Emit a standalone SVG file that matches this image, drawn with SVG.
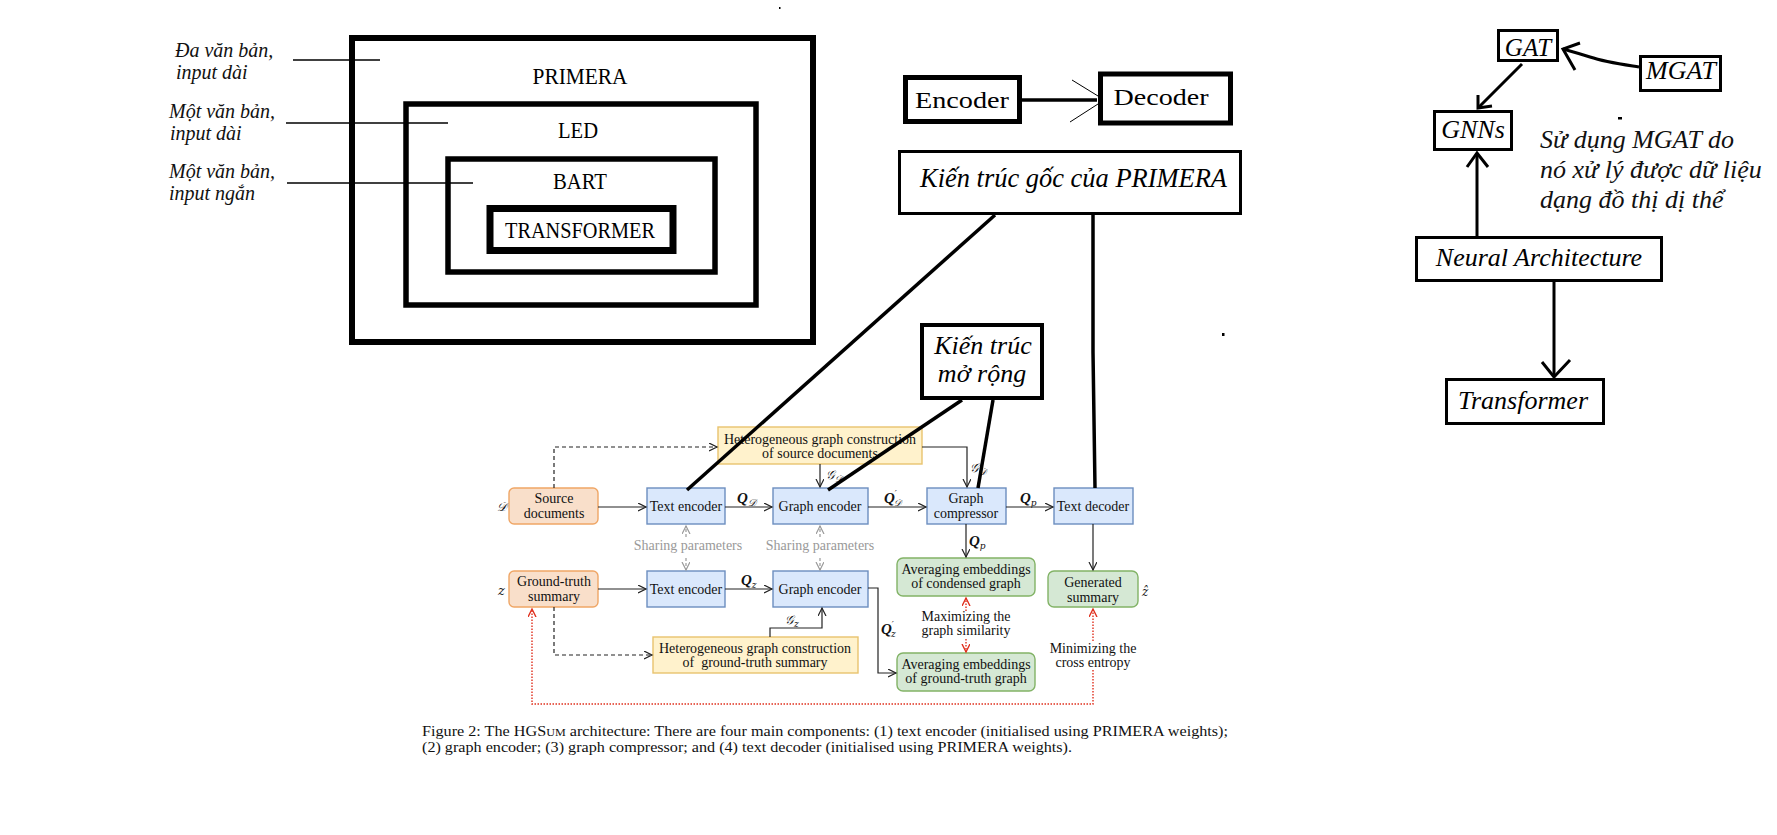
<svg xmlns="http://www.w3.org/2000/svg" width="1777" height="835" viewBox="0 0 1777 835">
<defs>
<style>
.bx{fill:none;stroke:#000}
.cond{font-family:"Liberation Serif","Times New Roman","DejaVu Serif",serif;font-size:24px;text-anchor:middle}
.it{font-family:"Liberation Serif","Times New Roman","DejaVu Serif",serif;font-style:italic}
.sf{font-family:"Liberation Serif","Times New Roman","DejaVu Serif",serif;font-size:14px;fill:#111}
.c{text-anchor:middle}
.blue{fill:#DAE8FC;stroke:#6C8EBF;stroke-width:1.4}
.peach{fill:#F9DFCA;stroke:#EFA666;stroke-width:1.4}
.yel{fill:#FFF2CC;stroke:#E8C36E;stroke-width:1.4}
.grn{fill:#D5E8D4;stroke:#82B366;stroke-width:1.4}
.ln{fill:none;stroke:#222;stroke-width:1.2}
.dash{fill:none;stroke:#222;stroke-width:1.2;stroke-dasharray:4 3}
.grey{fill:none;stroke:#999;stroke-width:1.2;stroke-dasharray:3 2}
.red{fill:none;stroke:#E0301E;stroke-width:1.4;stroke-dasharray:1.5 1.5}
.ann{fill:none;stroke:#000;stroke-width:3.5}
.hand{fill:none;stroke:#000;stroke-width:3}
.math{font-family:"DejaVu Serif","Liberation Serif",serif;font-style:italic;fill:#111}
.q{font-family:"Liberation Serif","DejaVu Serif",serif;font-style:italic;font-weight:bold;font-size:15px;fill:#111}
</style>
<marker id="a" markerWidth="10" markerHeight="10" refX="8" refY="4" orient="auto" markerUnits="userSpaceOnUse"><path d="M0,0 L8,4 L0,8" fill="none" stroke="#222" stroke-width="1.2"/></marker>
<marker id="ag" markerWidth="10" markerHeight="10" refX="8" refY="4" orient="auto" markerUnits="userSpaceOnUse"><path d="M0,0 L8,4 L0,8" fill="none" stroke="#999" stroke-width="1.2"/></marker>
<marker id="ar" markerWidth="10" markerHeight="10" refX="8" refY="4" orient="auto" markerUnits="userSpaceOnUse"><path d="M0,0 L8,4 L0,8" fill="none" stroke="#E0301E" stroke-width="1.4"/></marker>
</defs>
<rect width="1777" height="835" fill="#fff"/>

<!-- nested boxes -->
<g id="primera">
<rect class="bx" x="352" y="38" width="461" height="304" stroke-width="6"/>
<text class="cond" x="580" y="84" textLength="95" lengthAdjust="spacingAndGlyphs">PRIMERA</text>
</g>
<g id="led">
<rect class="bx" x="406" y="104" width="350" height="201" stroke-width="5.5"/>
<text class="cond" x="578" y="138" textLength="40" lengthAdjust="spacingAndGlyphs">LED</text>
</g>
<g id="bart">
<rect class="bx" x="448" y="159" width="267" height="113" stroke-width="5.5"/>
<text class="cond" x="580" y="189" textLength="54" lengthAdjust="spacingAndGlyphs">BART</text>
</g>
<g id="transformer-inner">
<rect class="bx" x="490" y="208.5" width="183" height="42" stroke-width="7"/>
<text class="cond" x="580" y="238" textLength="150" lengthAdjust="spacingAndGlyphs">TRANSFORMER</text>
</g>
<g id="side-labels" class="it" font-size="20" fill="#111">
<text x="175" y="57">Đa văn bản,</text>
<text x="176" y="79">input dài</text>
<text x="169" y="118">Một văn bản,</text>
<text x="170" y="140">input dài</text>
<text x="169" y="178">Một văn bản,</text>
<text x="169" y="200">input ngắn</text>
<line x1="293" y1="60" x2="380" y2="60" stroke="#000" stroke-width="1.5"/>
<line x1="286" y1="123" x2="448" y2="123" stroke="#000" stroke-width="1.5"/>
<line x1="287" y1="183" x2="473" y2="183" stroke="#000" stroke-width="1.5"/>
</g>

<!-- Encoder / Decoder -->
<g id="encoder">
<rect class="bx" x="905.5" y="77.5" width="114" height="44" stroke-width="5"/>
<text class="cond" x="962" y="108" font-size="25" textLength="94" lengthAdjust="spacingAndGlyphs">Encoder</text>
</g>
<g id="decoder">
<rect class="bx" x="1100.5" y="74" width="130" height="49" stroke-width="5"/>
<text class="cond" x="1161" y="105" font-size="25" textLength="95" lengthAdjust="spacingAndGlyphs">Decoder</text>
</g>
<g id="kien-truc-goc">
<rect class="bx" x="899.5" y="151.5" width="341" height="62" stroke-width="3"/>
<text class="it" x="920" y="187" font-size="27" textLength="307" lengthAdjust="spacingAndGlyphs">Kiến trúc gốc của PRIMERA</text>
</g>
<g id="kien-truc-mo-rong">
<rect class="bx" x="922" y="325" width="120" height="73" stroke-width="4"/>
<text class="it c" x="983" y="354" font-size="26">Kiến trúc</text>
<text class="it c" x="982" y="382" font-size="26">mở rộng</text>
</g>

<!-- right side -->
<g id="gat">
<rect class="bx" x="1498.5" y="30.5" width="59" height="30" stroke-width="3"/>
<text class="it c" x="1528" y="56" font-size="25">GAT</text>
</g>
<g id="mgat">
<rect class="bx" x="1640.5" y="56.5" width="80" height="34" stroke-width="3"/>
<text class="it c" x="1681" y="79" font-size="26">MGAT</text>
</g>
<g id="gnns">
<rect class="bx" x="1434.5" y="111.5" width="77" height="38" stroke-width="3"/>
<text class="it c" x="1473" y="138" font-size="26">GNNs</text>
</g>
<g id="neural">
<rect class="bx" x="1416.5" y="237.5" width="245" height="43" stroke-width="3"/>
<text class="it c" x="1539" y="266" font-size="26">Neural Architecture</text>
</g>
<g id="transformer-right">
<rect class="bx" x="1446.5" y="379.5" width="157" height="44" stroke-width="3"/>
<text class="it c" x="1523" y="409" font-size="26">Transformer</text>
</g>
<g id="note" class="it" font-size="26" fill="#111">
<text x="1540" y="148">Sử dụng MGAT do</text>
<text x="1540" y="178">nó xử lý được dữ liệu</text>
<text x="1540" y="208">dạng đồ thị dị thể</text>
</g>

<!-- HGSum figure nodes -->
<g id="src"><rect class="peach" x="509" y="488" width="89" height="36" rx="5"/><text class="sf c" x="554" y="503">Source</text><text class="sf c" x="554" y="518">documents</text></g>
<g id="gt"><rect class="peach" x="509" y="571" width="89" height="36" rx="5"/><text class="sf c" x="554" y="586">Ground-truth</text><text class="sf c" x="554" y="601">summary</text></g>
<g id="te1"><rect class="blue" x="647" y="488" width="78" height="36"/><text class="sf c" x="686" y="511">Text encoder</text></g>
<g id="te2"><rect class="blue" x="647" y="571" width="78" height="36"/><text class="sf c" x="686" y="594">Text encoder</text></g>
<g id="ge1"><rect class="blue" x="773" y="488" width="95" height="36"/><text class="sf c" x="820" y="511">Graph encoder</text></g>
<g id="ge2"><rect class="blue" x="773" y="571" width="95" height="36"/><text class="sf c" x="820" y="594">Graph encoder</text></g>
<g id="hsrc"><rect class="yel" x="718" y="427" width="204" height="37"/><text class="sf c" x="820" y="444">Heterogeneous graph construction</text><text class="sf c" x="820" y="458">of source documents</text></g>
<g id="hgt"><rect class="yel" x="653" y="637" width="205" height="36"/><text class="sf c" x="755" y="653">Heterogeneous graph construction</text><text class="sf c" x="755" y="667" xml:space="preserve">of  ground-truth summary</text></g>
<g id="gc"><rect class="blue" x="927" y="488" width="79" height="36"/><text class="sf c" x="966" y="503">Graph</text><text class="sf c" x="966" y="518">compressor</text></g>
<g id="td"><rect class="blue" x="1054" y="488" width="79" height="36"/><text class="sf c" x="1093" y="511">Text decoder</text></g>
<g id="avc"><rect class="grn" x="897" y="558" width="138" height="38" rx="6"/><text class="sf c" x="966" y="574">Averaging embeddings</text><text class="sf c" x="966" y="588">of condensed graph</text></g>
<g id="avg"><rect class="grn" x="897" y="653" width="138" height="38" rx="6"/><text class="sf c" x="966" y="669">Averaging embeddings</text><text class="sf c" x="966" y="683">of ground-truth graph</text></g>
<g id="gen"><rect class="grn" x="1048" y="571" width="90" height="36" rx="6"/><text class="sf c" x="1093" y="587">Generated</text><text class="sf c" x="1093" y="602">summary</text></g>

<!-- labels -->
<g id="labels">
<text class="math" x="497" y="511" font-size="12">𝒟</text>
<text class="math" x="498" y="595" font-size="13">z</text>
<text x="737" y="503"><tspan class="q">Q</tspan><tspan class="math" font-size="10" dy="3">𝒟</tspan></text>
<text x="826" y="479"><tspan class="math" font-size="12">𝒢</tspan><tspan class="math" font-size="9" dy="3">𝒟</tspan></text>
<text x="884" y="503"><tspan class="q">Q</tspan><tspan class="math" font-size="9" dy="-6">′</tspan><tspan class="math" font-size="9" dx="-3" dy="9">𝒟</tspan></text>
<text x="970" y="472"><tspan class="math" font-size="12">𝒢</tspan><tspan class="math" font-size="9" dy="3">𝒟</tspan></text>
<text x="1020" y="503"><tspan class="q">Q</tspan><tspan class="math" font-size="9" dy="3">p</tspan></text>
<text x="969" y="546"><tspan class="q">Q</tspan><tspan class="math" font-size="9" dy="3">p</tspan></text>
<text x="741" y="585"><tspan class="q">Q</tspan><tspan class="math" font-size="9" dy="3">z</tspan></text>
<text x="785" y="624"><tspan class="math" font-size="12">𝒢</tspan><tspan class="math" font-size="9" dy="3">z</tspan></text>
<text x="881" y="634"><tspan class="q">Q</tspan><tspan class="math" font-size="9" dy="-6">′</tspan><tspan class="math" font-size="9" dx="-3" dy="9">z</tspan></text>
<text class="math" x="1142" y="596" font-size="12">ẑ</text>
<text class="sf c" x="688" y="550" style="fill:#999">Sharing parameters</text>
<text class="sf c" x="820" y="550" style="fill:#999">Sharing parameters</text>
<text class="sf c" x="966" y="621">Maximizing the</text>
<text class="sf c" x="966" y="635">graph similarity</text>
<text class="sf c" x="1093" y="653">Minimizing the</text>
<text class="sf c" x="1093" y="667">cross entropy</text>
</g>

<!-- connectors -->
<g id="connectors">
<path class="ln" d="M598,507 H646" marker-end="url(#a)"/>
<path class="ln" d="M725,507 H772" marker-end="url(#a)"/>
<path class="ln" d="M868,507 H926" marker-end="url(#a)"/>
<path class="ln" d="M1006,507 H1053" marker-end="url(#a)"/>
<path class="ln" d="M820,464 V487" marker-end="url(#a)"/>
<path class="ln" d="M922,447 H967 V487" marker-end="url(#a)"/>
<path class="ln" d="M966,524 V557" marker-end="url(#a)"/>
<path class="ln" d="M1093,524 V570" marker-end="url(#a)"/>
<path class="ln" d="M598,589 H646" marker-end="url(#a)"/>
<path class="ln" d="M725,589 H772" marker-end="url(#a)"/>
<path class="ln" d="M770,637 V628 H822 V608" marker-end="url(#a)"/>
<path class="ln" d="M868,588 H878 V673 H896" marker-end="url(#a)"/>
<path class="dash" d="M554,488 V447 H717" marker-end="url(#a)"/>
<path class="dash" d="M554,607 V655 H652" marker-end="url(#a)"/>
<path class="grey" d="M686,537 V526" marker-end="url(#ag)"/>
<path class="grey" d="M686,558 V570" marker-end="url(#ag)"/>
<path class="grey" d="M820,537 V526" marker-end="url(#ag)"/>
<path class="grey" d="M820,558 V570" marker-end="url(#ag)"/>
<path class="red" d="M966,611 V598" marker-end="url(#ar)"/>
<path class="red" d="M966,639 V652" marker-end="url(#ar)"/>
<path class="red" d="M1093,670 V704 H532 V609" marker-end="url(#ar)"/>
<path class="red" d="M1093,641 V609" marker-end="url(#ar)"/>

<!-- annotation lines -->
<path class="ann" d="M1022,100 H1097" stroke-width="4"/>
<path fill="none" stroke="#000" stroke-width="1" d="M1072,80 L1098,96 M1070,122 L1098,104"/>
<path class="ann" d="M995,215 L687,490"/>
<path class="ann" d="M1093,215 L1093,352 L1095,488"/>
<path class="ann" d="M962,400 L828,490"/>
<path class="ann" d="M993,400 L978,488"/>

<!-- right side arrows -->
<path class="hand" d="M1639,67 C1620,64 1605,62 1590,57 C1578,53 1570,51 1563,49"/>
<path class="hand" d="M1580,43 L1563,49 L1575,70"/>
<path class="hand" d="M1522,64 L1478,108"/>
<path class="hand" d="M1478,95 L1478,108 L1492,106"/>
<path class="hand" d="M1477,236 V153"/>
<path class="hand" d="M1467,167 L1477,153 L1488,167"/>
<path class="hand" d="M1554,282 V377"/>
<path class="hand" d="M1542,362 L1554,377 L1570,360"/>
</g>

<!-- caption -->
<g id="caption" font-family="Liberation Serif, Times New Roman, serif" font-size="14" fill="#111">
<text x="422" y="736" textLength="806" lengthAdjust="spacingAndGlyphs">Figure 2: The HGS<tspan font-size="10.5">UM</tspan> architecture: There are four main components: (1) text encoder (initialised using PRIMERA weights);</text>
<text x="422" y="752" textLength="650" lengthAdjust="spacingAndGlyphs">(2) graph encoder; (3) graph compressor; and (4) text decoder (initialised using PRIMERA weights).</text>
</g>

<!-- stray marks -->
<g id="marks" fill="#000">
<rect x="779" y="7" width="1.5" height="2"/>
<rect x="1222" y="333" width="2.5" height="3"/>
<rect x="1618" y="117" width="4" height="2.5"/>
</g>
</svg>
